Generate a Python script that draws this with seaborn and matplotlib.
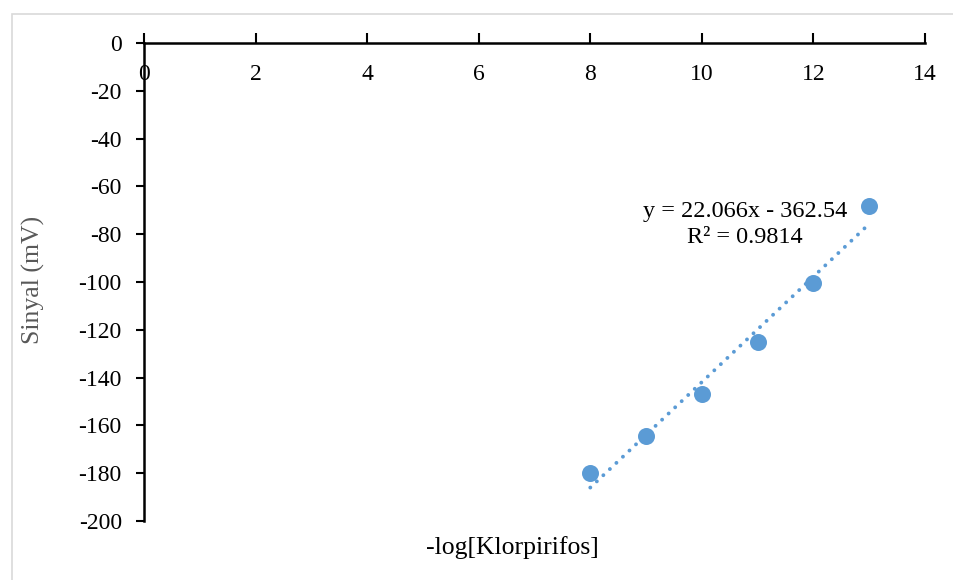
import matplotlib
matplotlib.use("Agg")
import matplotlib.pyplot as plt
import matplotlib.patches as mpatches
import numpy as np
import pandas as pd
import seaborn as sns

# Measured signal versus -log concentration of chlorpyrifos
neg_log_conc = [8, 9, 10, 11, 12, 13]
signal_mv = [-180.0, -164.5, -147.0, -125.0, -100.5, -68.0]

# Linear trendline coefficients and fit quality
slope = 22.066
intercept = -362.54
r_squared = 0.9814

x_ticks = [0, 2, 4, 6, 8, 10, 12, 14]
y_ticks = [0, -20, -40, -60, -80, -100, -120, -140, -160, -180, -200]

sns.set_theme(style="white")
plt.rcParams["font.family"] = ["Liberation Serif", "DejaVu Serif"]

blue = "#5B9BD5"

fig = plt.figure(figsize=(9.54, 5.8), dpi=100)
fig.patch.set_facecolor("white")
# chart-area frame
fig.add_artist(mpatches.Rectangle((12 / 954, -0.01), 1.0, 1 - 14 / 580 + 0.01,
                                  transform=fig.transFigure, fill=False,
                                  edgecolor="#d9d9d9", linewidth=1.2))

ax = fig.add_axes([144 / 954, 1 - 521 / 580, (925 - 144) / 954, (521 - 43) / 580])

df = pd.DataFrame({"x": neg_log_conc, "y": signal_mv})

# dotted linear trendline over the measured range
trend = pd.DataFrame({"x": [min(neg_log_conc), max(neg_log_conc)]})
trend["y"] = slope * trend["x"] + intercept
sns.lineplot(data=trend, x="x", y="y", ax=ax, color=blue, linewidth=2.8,
             linestyle=(0, (0.01, 2.3)), dash_capstyle="round", zorder=2)

sns.scatterplot(data=df, x="x", y="y", ax=ax, color=blue, s=150,
                edgecolor=blue, linewidth=0, zorder=3)

ax.set_xlim(0, 14)
ax.set_ylim(-200, 0)
ax.set_xticks(x_ticks)
ax.set_yticks(y_ticks)
ax.set_xticklabels([str(t) for t in x_ticks])
ax.set_yticklabels([str(t) for t in y_ticks])

for side in ("top", "right"):
    ax.spines[side].set_visible(False)
ax.spines["bottom"].set_position(("data", 0))
for side in ("left", "bottom"):
    ax.spines[side].set_color("black")
    ax.spines[side].set_linewidth(1.8)

ax.tick_params(axis="x", direction="in", length=7, width=1.5, colors="black",
               labelsize=17, pad=15, bottom=True)
ax.tick_params(axis="y", direction="out", length=6, width=1.5, colors="black",
               labelsize=17, pad=10, left=True)
ax.grid(False)

ax.set_xlabel("")
ax.set_ylabel("")
fig.text(512 / 954, 1 - 548 / 580, "-log[Klorpirifos]", ha="center", va="center",
         fontsize=18.5, color="black")
fig.text(33 / 954, 1 - 280 / 580, "Sinyal (mV)", ha="center", va="center",
         rotation=90, fontsize=18.5, color="#595959")

ax.text(10.77, -76, f"y = {slope}x - {abs(intercept)}\nR² = {r_squared}",
        ha="center", va="center", fontsize=17.5, color="black", linespacing=1.35)

fig.savefig("out.png", dpi=100, facecolor="white")
